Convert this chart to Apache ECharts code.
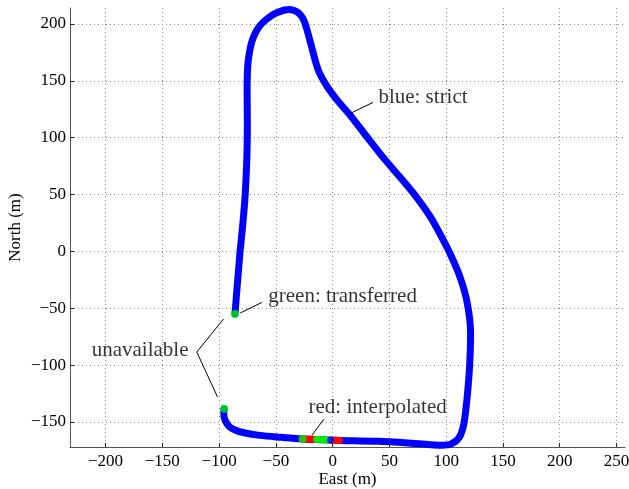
<!DOCTYPE html>
<html>
<head>
<meta charset="utf-8">
<script src="https://cdn.jsdelivr.net/npm/echarts@6/dist/echarts.min.js"></script>
<style>html,body{margin:0;padding:0;background:#fff}#c{width:629px;height:489px}</style>
</head>
<body>
<div id="c"></div>
<script>
// ---- data (East, North in metres) ----
var xTicks = [-200, -150, -100, -50, 0, 50, 100, 150, 200, 250];
var yTicks = [-150, -100, -50, 0, 50, 100, 150, 200];

var strictPath = [
  [-86.0, -55.0], [-84.0, -30.0], [-81.5, 0.0], [-79.0, 25.0], [-77.0, 50.0],
  [-75.6, 80.0], [-75.1, 110.0], [-75.3, 140.0], [-75.2, 152.0], [-74.7, 164.0],
  [-73.2, 175.5], [-70.8, 185.5], [-67.8, 192.5], [-64.0, 198.5], [-59.5, 203.0],
  [-55.0, 206.5], [-50.5, 209.2], [-46.0, 211.0], [-42.0, 212.2], [-38.0, 212.6],
  [-34.5, 212.0], [-31.0, 210.3], [-28.0, 207.5], [-25.5, 203.5], [-23.5, 198.0],
  [-21.5, 191.0], [-17.5, 176.0], [-12.5, 159.0], [-5.5, 146.0], [4.0, 133.0],
  [15.6, 119.5], [30.0, 101.0], [45.0, 82.0], [60.0, 64.5], [74.0, 47.5],
  [86.0, 30.5], [95.0, 14.5], [103.5, -2.0], [112.0, -22.0], [118.5, -45.0],
  [121.5, -72.0], [120.7, -100.0], [118.3, -130.0], [115.5, -152.0], [111.5, -163.5],
  [104.5, -169.3], [96.0, -170.5], [70.0, -168.7], [40.0, -167.0], [6.0, -166.2],
  [0.0, -166.0], [-4.0, -165.8], [-14.0, -165.5], [-26.0, -165.0], [-45.0, -163.5],
  [-64.0, -161.8], [-78.0, -159.5], [-86.0, -157.0], [-91.0, -154.0], [-94.0, -150.0],
  [-95.7, -145.0], [-95.8, -141.0], [-95.5, -138.3]
];
var redSeg1 = [[-26.0, -165.0], [-14.0, -165.5]];
var redSeg2 = [[0.0, -166.0], [6.0, -166.2]];
var greenSeg1 = [[-14.0, -165.5], [-4.0, -165.8]];
var greenDots = [[-86.0, -55.0], [-95.5, -138.3], [-26.5, -165.0]];
var blueDots = [[-1.8, -165.9]];

// annotations (text anchor at left-middle) and leader lines
var notes = [
  { text: 'blue: strict', at: [40.3, 135.6] },
  { text: 'green: transferred', at: [-56.7, -39.9] },
  { text: 'unavailable', at: [-212.2, -87.5] },
  { text: 'red: interpolated', at: [-21.2, -137.5] }
];
var leaderBlue = [[15.6, 121.3], [35.6, 131.0]];
var leaderGreen = [[-81.4, -54.2], [-62.3, -44.9]];
var leaderUnavail = [[-96.1, -59.5], [-119.6, -88.5], [-101.4, -128.0]];
var leaderRed = [[-7.9, -147.7], [-18.2, -161.8]];

var xRange = [-231.3, 257.5];
var yRange = [-172.0, 214.0];

// ---- chart ----
var FONT = '"Liberation Serif", "Times New Roman", serif';
var chart = echarts.init(document.getElementById('c'), null, { renderer: 'canvas' });
function fmt(v) { return String(v).replace('-', '\u2212'); }
function thick(data, color, w) {
  return { type: 'line', data: data, symbol: 'none', smooth: 0.3, silent: true,
    lineStyle: { color: color, width: w, cap: 'round', join: 'round' }, z: 3 };
}
function leader(data) {
  return { type: 'line', data: data, symbol: 'none', silent: true,
    lineStyle: { color: '#000', width: 1 }, z: 4 };
}
var labelStyle = { fontFamily: FONT, fontSize: 17, color: '#000' };
var axisCommon = {
  axisLine: { show: true, onZero: false, lineStyle: { color: '#555', width: 1 } },
  splitLine: { show: true, lineStyle: { color: '#888', width: 1, type: [1, 3] } },
  nameTextStyle: { fontFamily: FONT, fontSize: 17, color: '#000' },
  nameMoveOverlap: false
};
var option = {
  animation: false,
  backgroundColor: '#fff',
  textStyle: { fontFamily: FONT },
  grid: { left: 70, right: 4, top: 8, bottom: 42, containLabel: false, outerBoundsMode: 'none' },
  xAxis: Object.assign({}, axisCommon, {
    type: 'value', min: xRange[0], max: xRange[1],
    name: 'East (m)', nameLocation: 'middle', nameGap: 24,
    axisTick: { show: true, inside: true, length: 4, lineStyle: { color: '#222' }, customValues: xTicks },
    axisLabel: Object.assign({ customValues: xTicks, formatter: fmt, margin: 6 }, labelStyle)
  }),
  yAxis: Object.assign({}, axisCommon, {
    type: 'value', min: yRange[0], max: yRange[1],
    name: 'North (m)', nameLocation: 'middle', nameGap: 46,
    axisTick: { show: true, inside: true, length: 4, lineStyle: { color: '#222' }, customValues: yTicks },
    axisLabel: Object.assign({ customValues: yTicks, formatter: fmt, margin: 4 }, labelStyle)
  }),
  series: [
    thick(strictPath, '#0000ff', 7),
    thick(redSeg1, '#ff0000', 7),
    thick(redSeg2, '#ff0000', 7),
    thick(greenSeg1, '#00ee00', 7),
    { type: 'scatter', data: blueDots, symbolSize: 7, silent: true,
      itemStyle: { color: '#0000ff' }, z: 5 },
    { type: 'scatter', data: greenDots, symbolSize: 8, silent: true,
      itemStyle: { color: '#00ee00' }, z: 5 },
    leader(leaderBlue), leader(leaderGreen), leader(leaderUnavail), leader(leaderRed),
    { type: 'scatter', symbolSize: 0, silent: true, z: 6,
      data: notes.map(function (n) { return { value: n.at, name: n.text }; }),
      label: { show: true, position: 'right', distance: 0, formatter: '{b}',
        fontFamily: FONT, fontSize: 21, color: '#000', align: 'left', verticalAlign: 'middle' } }
  ]
};
chart.setOption(option);
</script>
</body>
</html>
